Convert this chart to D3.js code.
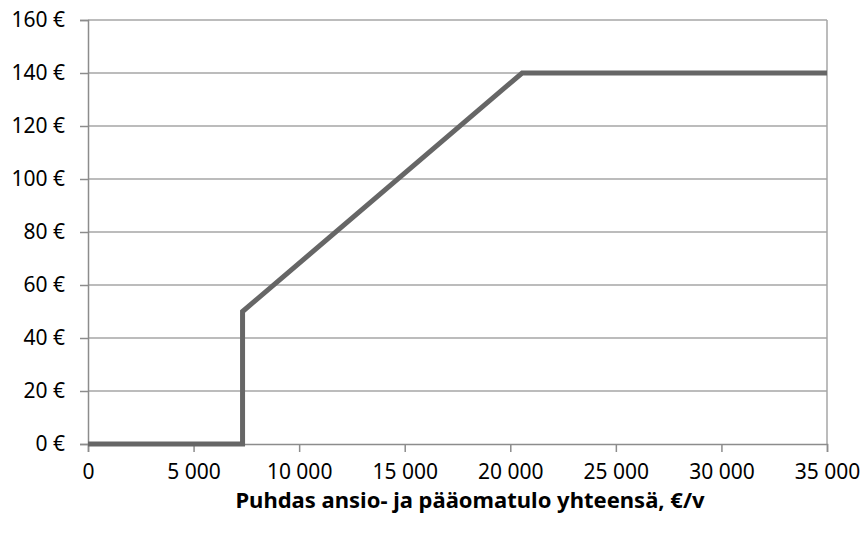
<!DOCTYPE html>
<html>
<head>
    <script src="https://d3js.org/d3.v7.min.js"></script>
    <title>Puhdas ansio- ja pääomatulo</title>
    <style>
        body { margin: 0; background: #fff; }
    </style>
</head>
<body>
    <svg id="plot" height="534" width="862"></svg>
    <script>
        // data
        const incomes = [0, 7320, 7320, 20560, 35000];
        const amounts = [0, 0, 50, 140, 140];
        const xTicks = [0, 5000, 10000, 15000, 20000, 25000, 30000, 35000];
        const yTicks = [0, 20, 40, 60, 80, 100, 120, 140, 160];
        const xTitle = "Puhdas ansio- ja pääomatulo yhteensä, €/v";

        const svg = d3.select('svg#plot');
        const margin = {top: 20, right: 35, bottom: 90, left: 88};
        const width = +svg.attr('width');
        const height = +svg.attr('height');
        const chartWidth = width - margin.left - margin.right;
        const chartHeight = height - margin.top - margin.bottom;
        const font = "'Noto Sans', 'Open Sans', sans-serif";

        const chartArea = svg.append('g')
            .attr('transform', `translate(${margin.left},${margin.top})`);

        const xScale = d3.scaleLinear().domain([0, 35000]).range([0, chartWidth]);
        const yScale = d3.scaleLinear().domain([0, 160]).range([chartHeight, 0]);

        const fmtX = d => d3.format(',')(d).replace(/,/g, ' ');

        // gridlines
        chartArea.append('g')
            .selectAll('line')
            .data(yTicks.filter(d => d > 0))
            .join('line')
            .attr('x1', 0)
            .attr('x2', chartWidth)
            .attr('y1', d => yScale(d))
            .attr('y2', d => yScale(d))
            .style('stroke', '#a6a6a6')
            .style('stroke-width', 1.5);

        // right border
        chartArea.append('line')
            .attr('x1', chartWidth).attr('x2', chartWidth)
            .attr('y1', 0).attr('y2', chartHeight)
            .style('stroke', '#a6a6a6')
            .style('stroke-width', 1.5);

        // y axis
        const yAxis = chartArea.append('g')
            .call(d3.axisLeft(yScale).tickValues(yTicks).tickSize(8).tickPadding(15)
                .tickFormat(d => d + ' €'));

        // x axis
        const xAxis = chartArea.append('g')
            .attr('transform', `translate(0,${chartHeight})`)
            .call(d3.axisBottom(xScale).tickValues(xTicks).tickSize(8).tickPadding(12)
                .tickFormat(fmtX));

        [xAxis, yAxis].forEach(ax => {
            ax.attr('font-size', null).attr('font-family', null);
            ax.select('.domain').style('stroke', '#8c8c8c').style('stroke-width', 1.5);
            ax.selectAll('.tick line').style('stroke', '#8c8c8c').style('stroke-width', 1.5);
            ax.selectAll('text')
                .style('font-family', font)
                .style('font-size', '21px')
                .style('fill', '#000');
        });

        // the line
        const line = d3.line()
            .x((d, i) => xScale(incomes[i]))
            .y(d => yScale(d));

        chartArea.append('path')
            .datum(amounts)
            .attr('d', line)
            .style('fill', 'none')
            .style('stroke', '#666666')
            .style('stroke-width', 5)
            .style('stroke-linejoin', 'miter');

        // x title
        svg.append('text')
            .attr('x', 470)
            .attr('y', 508)
            .attr('text-anchor', 'middle')
            .style('font-family', font)
            .style('font-size', '22px')
            .style('font-weight', 'bold')
            .text(xTitle);
    </script>
</body>
</html>
